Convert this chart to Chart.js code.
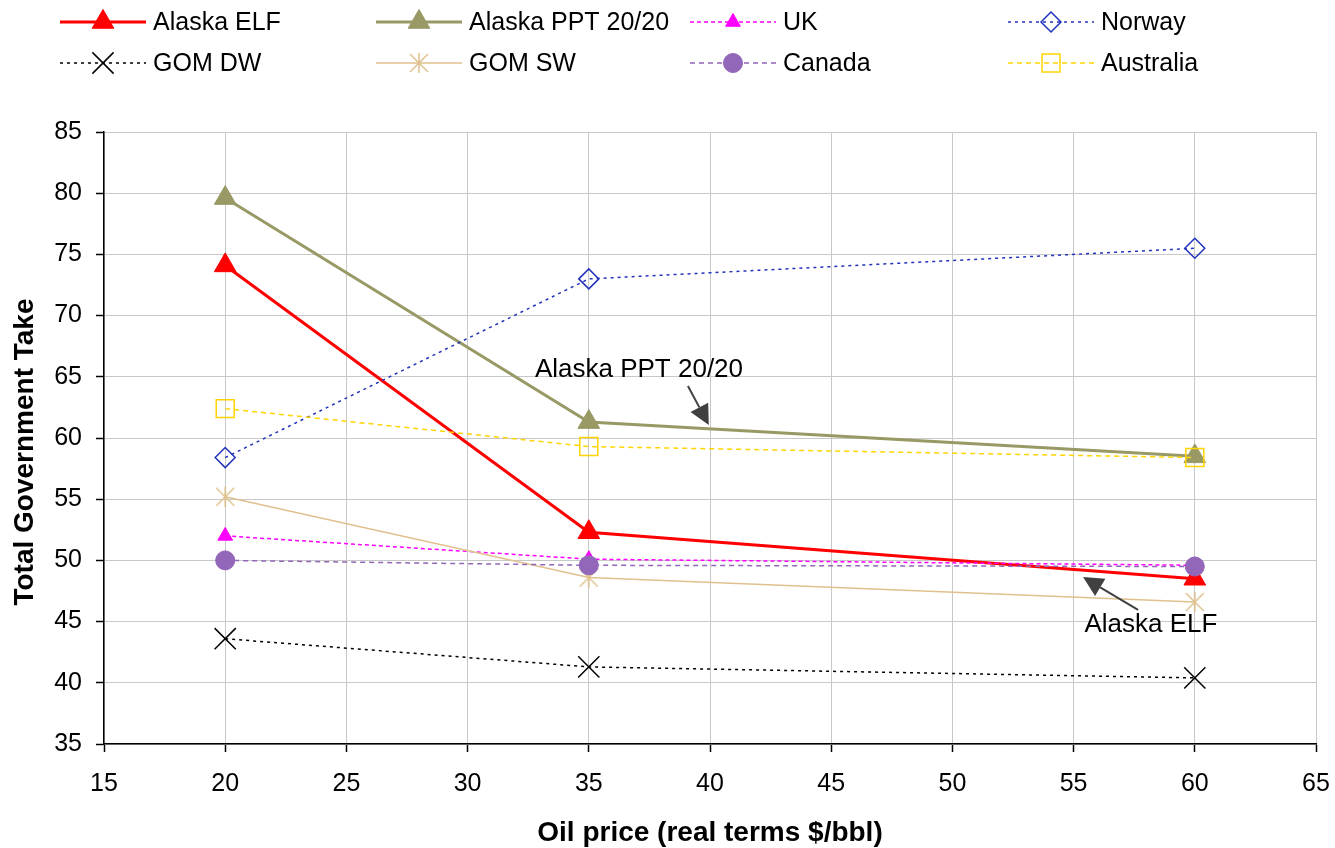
<!DOCTYPE html>
<html>
<head>
<meta charset="utf-8">
<title>Total Government Take vs Oil Price</title>
<script src="https://cdn.jsdelivr.net/npm/chart.js@4.4.1/dist/chart.umd.min.js"></script>
<style>
  html, body { margin: 0; padding: 0; background: #ffffff; }
  #wrap { width: 1335px; height: 848px; position: relative; }
  canvas { display: block; }
</style>
</head>
<body>
<div id="wrap"><canvas id="chart" width="1335" height="848"></canvas></div>
<script>
// ---- Data -------------------------------------------------------------
const oilPrice   = [20, 35, 60];
const alaskaELF  = [74.1, 52.3, 48.5];
const alaskaPPT  = [79.6, 61.3, 58.5];
const uk         = [52.0, 50.1, 49.6];
const norway     = [58.4, 73.0, 75.5];
const gomDW      = [43.6, 41.3, 40.4];
const gomSW      = [55.2, 48.6, 46.6];
const canada     = [50.0, 49.6, 49.5];
const australia  = [62.4, 59.3, 58.4];

const seriesNames = ['Alaska ELF', 'Alaska PPT 20/20', 'UK', 'Norway',
                     'GOM DW', 'GOM SW', 'Canada', 'Australia'];
const seriesValues = [alaskaELF, alaskaPPT, uk, norway, gomDW, gomSW, canada, australia];

const xAxisRange = { min: 15, max: 65, step: 5 };
const yAxisRange = { min: 35, max: 85, step: 5 };
const xAxisTitle = 'Oil price (real terms $/bbl)';
const yAxisTitle = 'Total Government Take';

// Callout labels, placed in data units
const callouts = [
  { text: 'Alaska PPT 20/20', at: [37.07, 64.98], from: [39.09, 64.25], to: [39.95, 61.06] },
  { text: 'Alaska ELF',       at: [58.19, 44.15], from: [57.66, 45.95], to: [55.39, 48.64] }
];

// ---- Styling ----------------------------------------------------------
const FONT = "'Liberation Sans', Arial, Helvetica, sans-serif";

// Asterisk-like marker: vertical stroke plus an X
function makeStar(color, size, lw) {
  const c = document.createElement('canvas');
  c.width = size; c.height = size;
  const g = c.getContext('2d');
  const h = size / 2, r = size / 2 - 1, d = r * 0.9;
  g.strokeStyle = color;
  g.lineWidth = lw;
  g.beginPath();
  g.moveTo(h, h - r); g.lineTo(h, h + r);
  g.moveTo(h - d, h - d); g.lineTo(h + d, h + d);
  g.moveTo(h + d, h - d); g.lineTo(h - d, h + d);
  g.stroke();
  return c;
}

const seriesStyles = [
  { color: '#FF0000', width: 3,   dash: [],     point: 'triangle', radius: 12.5, fill: '#FF0000', pw: 1 },
  { color: '#999966', width: 3,   dash: [],     point: 'triangle', radius: 12.5, fill: '#999966', pw: 1 },
  { color: '#FF00FF', width: 1.5, dash: [4, 3], point: 'triangle', radius: 8.5,  fill: '#FF00FF', pw: 1 },
  { color: '#2233BB', width: 1.5, dash: [3, 4], point: 'rectRot',  radius: 10,   fill: 'rgba(0,0,0,0)', pw: 1.5 },
  { color: '#000000', width: 1.5, dash: [3, 4], point: 'crossRot', radius: 15,   fill: 'rgba(0,0,0,0)', pw: 1.5 },
  { color: '#DFC18D', width: 1.5, dash: [],     point: makeStar('#DFC18D', 22, 1.5), radius: 10, fill: 'rgba(0,0,0,0)', pw: 1.5 },
  { color: '#9266B8', width: 1.5, dash: [5, 4], point: 'circle',   radius: 9.5,  fill: '#9266B8', pw: 1 },
  { color: '#FFD400', width: 1.5, dash: [5, 4], point: 'rect',     radius: 12.7, fill: 'rgba(0,0,0,0)', pw: 1.5 }
];

const datasets = seriesNames.map((name, i) => {
  const s = seriesStyles[i];
  return {
    label: name,
    data: oilPrice.map((x, k) => ({ x: x, y: seriesValues[i][k] })),
    borderColor: s.color,
    backgroundColor: s.fill,
    borderWidth: s.width,
    borderDash: s.dash,
    pointStyle: s.point,
    pointRadius: s.radius,
    pointHoverRadius: s.radius,
    pointBackgroundColor: s.fill,
    pointBorderColor: s.color,
    pointBorderWidth: s.pw,
    tension: 0,
    fill: false,
    order: 20 - i
  };
});

// ---- Plugins ----------------------------------------------------------
const whiteBackground = {
  id: 'whiteBackground',
  beforeDraw(chart) {
    const ctx = chart.ctx;
    ctx.save();
    ctx.fillStyle = '#ffffff';
    ctx.fillRect(0, 0, chart.width, chart.height);
    ctx.restore();
  }
};

function drawMarker(ctx, ds, x, y) {
  ctx.save();
  ctx.setLineDash([]);
  ctx.fillStyle = ds.pointBackgroundColor;
  ctx.strokeStyle = ds.pointBorderColor;
  ctx.lineWidth = ds.pointBorderWidth;
  Chart.helpers.drawPoint(ctx, {
    pointStyle: ds.pointStyle, rotation: 0,
    radius: ds.pointRadius, borderWidth: ds.pointBorderWidth
  }, x, y);
  ctx.restore();
}

// Two-row legend above the plot
const gridLegend = {
  id: 'gridLegend',
  afterDraw(chart) {
    const ctx = chart.ctx;
    const colX = [60, 376, 690, 1008];
    const rowY = [22, 63];
    const sampleLen = 86;
    chart.data.datasets.forEach((ds, i) => {
      const x0 = colX[i % 4], y = rowY[Math.floor(i / 4)];
      ctx.save();
      ctx.strokeStyle = ds.borderColor;
      ctx.lineWidth = ds.borderWidth;
      ctx.setLineDash(ds.borderDash || []);
      ctx.beginPath();
      ctx.moveTo(x0, y);
      ctx.lineTo(x0 + sampleLen, y);
      ctx.stroke();
      ctx.restore();
      drawMarker(ctx, ds, x0 + sampleLen / 2, y);
      ctx.save();
      ctx.fillStyle = '#000000';
      ctx.font = '25px ' + FONT;
      ctx.textBaseline = 'middle';
      ctx.textAlign = 'left';
      ctx.fillText(ds.label, x0 + sampleLen + 7, y + 1);
      ctx.restore();
    });
  }
};

// Axis titles
const axisTitles = {
  id: 'axisTitles',
  afterDraw(chart) {
    const ctx = chart.ctx;
    const area = chart.chartArea;
    ctx.save();
    ctx.fillStyle = '#000000';
    ctx.font = 'bold 28px ' + FONT;
    ctx.textAlign = 'center';
    ctx.textBaseline = 'alphabetic';
    ctx.fillText(xAxisTitle, (area.left + area.right) / 2, 841);
    ctx.translate(33, (area.top + area.bottom) / 2 + 14);
    ctx.rotate(-Math.PI / 2);
    ctx.fillText(yAxisTitle, 0, 0);
    ctx.restore();
  }
};

// Callout text with arrows
const calloutPlugin = {
  id: 'callouts',
  afterDatasetsDraw(chart) {
    const ctx = chart.ctx;
    const xs = chart.scales.x, ys = chart.scales.y;
    callouts.forEach(c => {
      const tx = xs.getPixelForValue(c.at[0]), ty = ys.getPixelForValue(c.at[1]);
      const fx = xs.getPixelForValue(c.from[0]), fy = ys.getPixelForValue(c.from[1]);
      const ex = xs.getPixelForValue(c.to[0]), ey = ys.getPixelForValue(c.to[1]);
      ctx.save();
      ctx.fillStyle = '#000000';
      ctx.font = '26px ' + FONT;
      ctx.textAlign = 'center';
      ctx.textBaseline = 'alphabetic';
      ctx.fillText(c.text, tx, ty);
      // arrow
      const dx = ex - fx, dy = ey - fy, len = Math.hypot(dx, dy);
      const ux = dx / len, uy = dy / len;
      const headLen = 20, headHalf = 10;
      const bx = ex - ux * headLen, by = ey - uy * headLen;
      ctx.strokeStyle = '#404040';
      ctx.fillStyle = '#404040';
      ctx.lineWidth = 2;
      ctx.beginPath();
      ctx.moveTo(fx, fy);
      ctx.lineTo(bx, by);
      ctx.stroke();
      ctx.beginPath();
      ctx.moveTo(ex, ey);
      ctx.lineTo(bx - uy * headHalf, by + ux * headHalf);
      ctx.lineTo(bx + uy * headHalf, by - ux * headHalf);
      ctx.closePath();
      ctx.fill();
      ctx.restore();
    });
  }
};

// ---- Chart ------------------------------------------------------------
new Chart(document.getElementById('chart'), {
  type: 'line',
  data: { datasets: datasets },
  options: {
    responsive: false,
    animation: false,
    devicePixelRatio: 1,
    layout: { padding: { top: 132, right: 19, left: 0, bottom: 0 } },
    plugins: {
      legend: { display: false },
      tooltip: { enabled: false },
      title: { display: false }
    },
    scales: {
      x: {
        type: 'linear',
        min: xAxisRange.min,
        max: xAxisRange.max,
        afterFit(scale) {
          scale.height = 104;
          scale.paddingRight = 0;
          scale.paddingLeft = 0;
        },
        ticks: {
          stepSize: xAxisRange.step,
          color: '#000000',
          font: { family: FONT, size: 25 },
          padding: 17,
          maxRotation: 0
        },
        grid: { color: '#c8c8c8', lineWidth: 1, tickLength: 8, tickColor: '#000000', tickWidth: 1.5 },
        border: { color: '#000000', width: 1.5 },
        title: { display: false }
      },
      y: {
        type: 'linear',
        min: yAxisRange.min,
        max: yAxisRange.max,
        afterFit(scale) { scale.width = 104; },
        ticks: {
          stepSize: yAxisRange.step,
          color: '#000000',
          font: { family: FONT, size: 25 },
          padding: 14
        },
        grid: { color: '#c8c8c8', lineWidth: 1, tickLength: 8, tickColor: '#000000', tickWidth: 1.5 },
        border: { color: '#000000', width: 1.5 },
        title: { display: false }
      }
    }
  },
  plugins: [whiteBackground, calloutPlugin, gridLegend, axisTitles]
});
</script>
</body>
</html>
